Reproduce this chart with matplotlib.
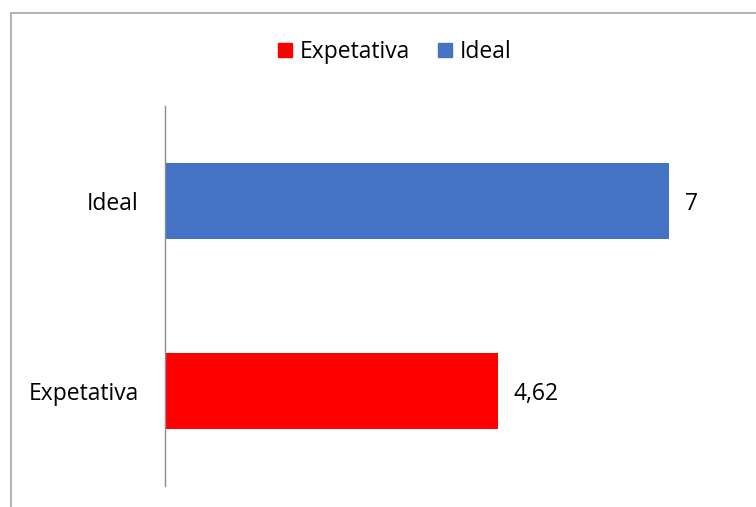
import matplotlib as mpl
mpl.use('Agg')
import matplotlib.pyplot as plt
from matplotlib.lines import Line2D
from matplotlib.patches import Patch

plt.rcParams['font.family'] = ['Open Sans', 'DejaVu Sans']

categories = ['Expetativa', 'Ideal']
values = [4.62, 7]
colors = ['#FF0000', '#4472C4']
value_labels = ['4,62', '7']

W, H = 756, 507
fs = 16.5
fig = plt.figure(figsize=(W / 100, H / 100), dpi=100)
ax = fig.add_axes([165 / W, 1 - 486 / H, 576 / W, 380 / H])

bars = ax.barh(range(len(categories)), values, height=0.405, color=colors)
ax.set_xlim(0, 8)
ax.set_ylim(-0.5, 1.5)
ax.set_yticks(range(len(categories)))
ax.set_yticklabels(categories, fontsize=fs)
ax.tick_params(axis='y', length=0, pad=19)
ax.set_xticks([])
for side in ['top', 'right', 'bottom']:
    ax.spines[side].set_visible(False)
ax.spines['left'].set_color('#8C8C8C')
ax.spines['left'].set_linewidth(1)

for bar, lab in zip(bars, value_labels):
    ax.annotate(lab, (bar.get_width(), bar.get_y() + bar.get_height() / 2),
                xytext=(16, 0), textcoords='offset pixels',
                va='center_baseline', ha='left', fontsize=fs)

handles = [Patch(color=c) for c in colors]
fig.legend(handles, categories, loc='center', bbox_to_anchor=(395 / W, 1 - 52 / H),
           ncol=2, frameon=False, fontsize=fs, handlelength=0.6, handleheight=0.6,
           handletextpad=0.35, columnspacing=1.2)

# outer chart frame (left and top edges)
fig.add_artist(Line2D([10.5 / W, 10.5 / W], [0, 1 - 13 / H], color='#A6A6A6', lw=1.2))
fig.add_artist(Line2D([10.5 / W, 1], [1 - 13 / H, 1 - 13 / H], color='#A6A6A6', lw=1.2))

fig.savefig('out.png', dpi=100)
